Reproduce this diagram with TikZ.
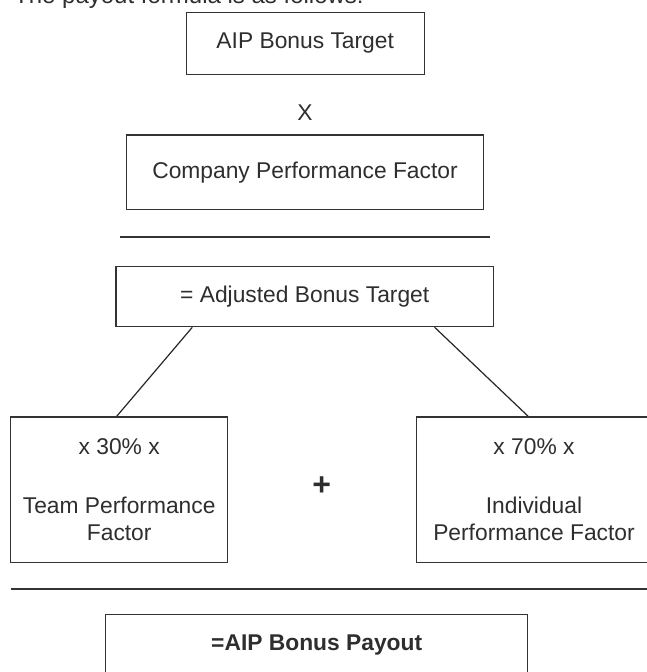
\documentclass[tikz,border=0pt]{standalone}
\usepackage{fontspec}
\setmainfont{Liberation Sans}
\usetikzlibrary{calc}

\begin{document}
\begin{tikzpicture}[x=1pt, y=-1pt,
		every node/.style={text=black!82, font=\fontsize{22.8}{26.7}\selectfont},
		formbox/.style={draw=black!80, line width=1.2pt, inner sep=0pt, align=center},
		rule/.style={draw=black!80, line width=1.6pt}]
		%%%%% START %%%%%
		
		\useasboundingbox (0, 0) rectangle (646, 672);
		
		\node[anchor=base west, inner sep=0pt, font=\fontsize{24}{28}\selectfont] (intro) at (14, 3) {The payout formula is as follows:};
		
		\node[formbox, minimum width=238, minimum height=62] (target) at (305.2, 43.3) {AIP Bonus Target};
		\node (times) at (305, 113) {X};
		\node[formbox, minimum width=356.6, minimum height=74.3] (company) at (305, 172.2) {Company Performance Factor};
		
		\draw[rule] (120, 236.7) -- (490, 236.7);
		
		\node[formbox, minimum width=377.5, minimum height=60] (adjusted) at (304.75, 296.7) {= Adjusted Bonus Target};
		
		\node[formbox, minimum width=217, minimum height=145.3] (team) at (119.2, 489.7)
			{x 30\% x\\[32pt]Team Performance\\Factor};
		\node[formbox, minimum width=234.6, minimum height=145.3] (indiv) at (534, 489.7)
			{x 70\% x\\[32pt]Individual\\Performance Factor};
		\node[font=\fontsize{32}{32}\selectfont\bfseries] (plus) at (321.7, 485.7) {+};
		
		\draw[black!85, line width=1.2pt] ($(adjusted.south west)!0.203!(adjusted.south east)$) -- ($(team.north west)!0.488!(team.north east)$);
		\draw[black!85, line width=1.2pt] ($(adjusted.south west)!0.843!(adjusted.south east)$) -- ($(indiv.north west)!0.476!(indiv.north east)$);
		
		\draw[rule, line width=2pt] (10.7, 589) -- (660, 589);
		
		\node[formbox, minimum width=422, minimum height=62, font=\fontsize{22.8}{26.7}\selectfont\bfseries] (payout) at (316.7, 645.3) {=AIP Bonus Payout};
		
		%%%%% END %%%%%
\end{tikzpicture}
\end{document}
